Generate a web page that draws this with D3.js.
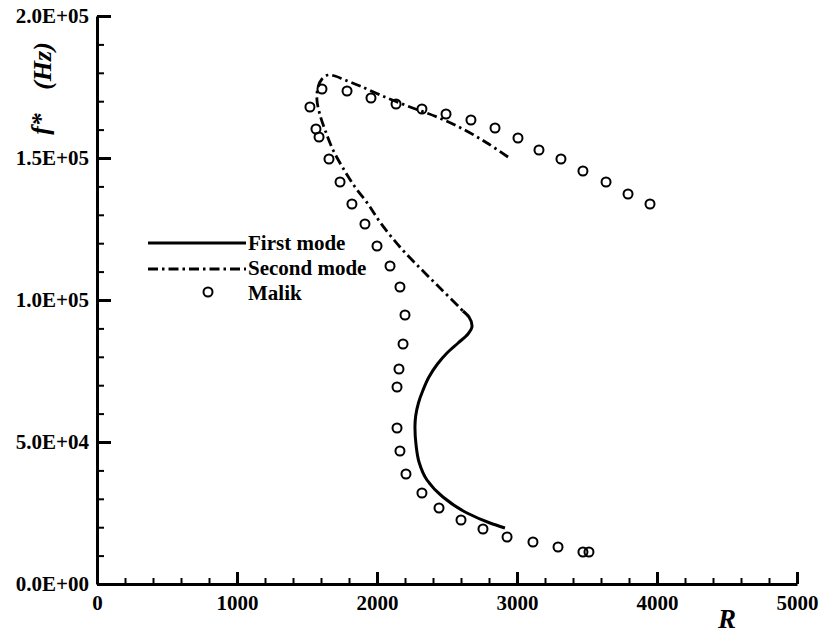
<!DOCTYPE html>
<html>
<head>
<meta charset="utf-8">
<script src="https://cdn.jsdelivr.net/npm/d3@7"></script>
<style>
  html, body { margin: 0; padding: 0; background: #fff; }
  svg { display: block; }
  text { font-family: "Liberation Serif", "Times New Roman", serif; font-weight: bold; fill: #000; }
</style>
</head>
<body>
<svg id="chart" width="821" height="635"></svg>
<script>
// ---- data (R, f* in Hz) ----
const firstModeR = [2614, 2657, 2679, 2650, 2579, 2500, 2432, 2371, 2329, 2296, 2271, 2279, 2300, 2357, 2471, 2643, 2807, 2914];
const firstModeF = [96127, 94014, 90842, 88028, 84859, 81338, 77465, 72887, 68310, 63732, 55282, 48944, 42958, 36620, 30634, 25000, 21479, 19718];

const secondModeR = [2936, 2786, 2614, 2429, 2236, 2057, 1879, 1771, 1700, 1650, 1607, 1579, 1571, 1593, 1629, 1686, 1757, 1843, 1936, 2021, 2164, 2307, 2450, 2593, 2614];
const secondModeF = [150352, 155282, 160211, 164437, 167958, 171479, 175352, 177465, 178873, 179225, 177817, 175000, 170423, 165141, 159859, 152817, 146479, 139789, 133803, 127465, 118662, 111268, 104225, 97183, 96127];

const malikR = [3514, 3471, 3293, 3114, 2929, 2757, 2600, 2443, 2321, 2207, 2164, 2143, 2143, 2157, 2186, 2200, 2164, 2093, 2000, 1914, 1821, 1736, 1657, 1586, 1564, 1521, 1607, 1786, 1957, 2136, 2321, 2493, 2671, 2843, 3007, 3157, 3314, 3471, 3636, 3793, 3950];
const malikF = [11268, 11268, 13028, 14789, 16549, 19366, 22535, 26761, 32042, 38732, 46831, 54930, 69366, 75704, 84507, 94718, 104577, 111972, 119014, 126761, 133803, 141549, 149648, 157394, 160211, 167958, 174296, 173592, 171127, 169014, 167254, 165493, 163380, 160563, 157042, 152817, 149648, 145420, 141549, 137324, 133803];

const xMajorTicks = [0, 1000, 2000, 3000, 4000, 5000];
const xTickLabels = ["0", "1000", "2000", "3000", "4000", "5000"];
const yMajorTicks = [0, 50000, 100000, 150000, 200000];
const yTickLabels = ["0.0E+00", "5.0E+04", "1.0E+05", "1.5E+05", "2.0E+05"];
const xMinorStep = 200;
const yMinorStep = 10000;

const legendLabels = ["First mode", "Second mode", "Malik"];

// ---- drawing ----
const svg = d3.select("#chart");
const x = d3.scaleLinear().domain([0, 5000]).range([97, 797]);
const y = d3.scaleLinear().domain([0, 200000]).range([584, 16]);

const xMinor = d3.range(0, 5000 + 1, xMinorStep).filter(v => !xMajorTicks.includes(v));
const yMinor = d3.range(0, 200000 + 1, yMinorStep).filter(v => !yMajorTicks.includes(v));

// minor ticks
svg.append("g").attr("transform", `translate(0,${y(0)})`)
  .call(d3.axisBottom(x).tickValues(xMinor).tickSize(-6).tickSizeOuter(0).tickFormat(""))
  .call(g => g.select(".domain").remove())
  .call(g => g.selectAll("line").attr("stroke", "#000").attr("stroke-width", 2));
svg.append("g").attr("transform", `translate(${x(0)},0)`)
  .call(d3.axisLeft(y).tickValues(yMinor).tickSize(-7).tickSizeOuter(0).tickFormat(""))
  .call(g => g.select(".domain").remove())
  .call(g => g.selectAll("line").attr("stroke", "#000").attr("stroke-width", 2));

// major x axis
svg.append("g").attr("transform", `translate(0,${y(0)})`)
  .call(d3.axisBottom(x).tickValues(xMajorTicks).tickSize(-12).tickSizeOuter(0).tickPadding(11)
    .tickFormat((d, i) => xTickLabels[i]))
  .call(g => g.select(".domain").attr("stroke", "#000").attr("stroke-width", 3))
  .call(g => g.selectAll("line").attr("stroke", "#000").attr("stroke-width", 3))
  .call(g => g.selectAll("text").attr("font-size", 21).attr("font-family", "Liberation Serif, serif").attr("font-weight", "bold").attr("fill", "#000"));

// major y axis
svg.append("g").attr("transform", `translate(${x(0)},0)`)
  .call(d3.axisLeft(y).tickValues(yMajorTicks).tickSize(-14).tickSizeOuter(0).tickPadding(8)
    .tickFormat((d, i) => yTickLabels[i]))
  .call(g => g.select(".domain").attr("stroke", "#000").attr("stroke-width", 3))
  .call(g => g.selectAll("line").attr("stroke", "#000").attr("stroke-width", 3))
  .call(g => g.selectAll("text").attr("font-size", 21).attr("font-family", "Liberation Serif, serif").attr("font-weight", "bold").attr("fill", "#000"));

// axis titles
svg.append("text").attr("x", 727).attr("y", 628).attr("text-anchor", "middle")
  .attr("font-size", 27).attr("font-style", "italic").text("R");
svg.append("text").attr("transform", "translate(40,124) rotate(-90)")
  .attr("text-anchor", "middle").attr("dominant-baseline", "central")
  .attr("font-size", 26).attr("font-style", "italic").text("f*");
svg.append("text").attr("transform", "translate(42,66) rotate(-90)")
  .attr("text-anchor", "middle").attr("dominant-baseline", "central")
  .attr("font-size", 26).attr("font-style", "italic").text("(Hz)");

// curves
const line2 = d3.line().x(d => x(d[0])).y(d => y(d[1])).curve(d3.curveCatmullRom.alpha(0.5));
const line1 = d3.line().x(d => x(d[0])).y(d => y(d[1])).curve(d3.curveMonotoneY);
const first = firstModeR.map((r, i) => [r, firstModeF[i]]);
const second = secondModeR.map((r, i) => [r, secondModeF[i]]);

svg.append("path").attr("d", line2(second)).attr("fill", "none")
  .attr("stroke", "#000").attr("stroke-width", 2.8).attr("stroke-dasharray", "10,4,2.5,4");
svg.append("path").attr("d", line1(first)).attr("fill", "none")
  .attr("stroke", "#000").attr("stroke-width", 3);

// Malik circles
svg.append("g").selectAll("circle").data(malikR.map((r, i) => [r, malikF[i]])).join("circle")
  .attr("cx", d => x(d[0])).attr("cy", d => y(d[1])).attr("r", 4.5)
  .attr("fill", "none").attr("stroke", "#000").attr("stroke-width", 2);

// legend
const lg = svg.append("g");
lg.append("line").attr("x1", 148).attr("x2", 246).attr("y1", 243).attr("y2", 243)
  .attr("stroke", "#000").attr("stroke-width", 3);
lg.append("line").attr("x1", 148).attr("x2", 246).attr("y1", 269).attr("y2", 269)
  .attr("stroke", "#000").attr("stroke-width", 2.8).attr("stroke-dasharray", "10,4,2.5,4");
lg.append("circle").attr("cx", 208).attr("cy", 292).attr("r", 4.5)
  .attr("fill", "none").attr("stroke", "#000").attr("stroke-width", 2);
const legendY = [250, 275, 300];
legendLabels.forEach((t, i) => {
  lg.append("text").attr("x", 248).attr("y", legendY[i]).attr("font-size", 21).text(t);
});
</script>
</body>
</html>
